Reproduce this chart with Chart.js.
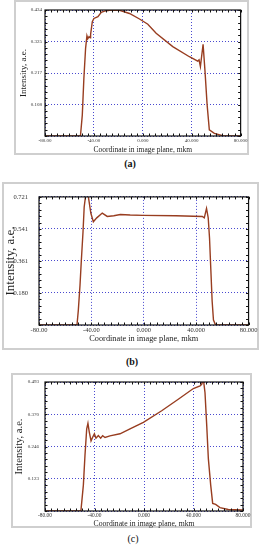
<!DOCTYPE html>
<html>
<head>
<meta charset="utf-8">
<script src="https://cdn.jsdelivr.net/npm/chart.js@4"></script>
<style>
  body { margin: 0; background: #fff; width: 264px; height: 550px; position: relative; overflow: hidden; }
  .box { position: absolute; box-sizing: border-box; border: 2px solid #cfcfcf; }
  .cv { position: absolute; }
  .lab { position: absolute; font-family: "Liberation Serif", serif; font-size: 10px; color: #111; transform: translate(-50%, -50%); }
</style>
</head>
<body>
<div class="box" style="left:14px;top:0px;width:235px;height:155px"></div>
<div class="box" style="left:2px;top:182px;width:257px;height:168px"></div>
<div class="box" style="left:11px;top:373px;width:241px;height:155px"></div>

<canvas id="chart-a" class="cv" width="235" height="155" style="left:14px;top:0px"></canvas>
<canvas id="chart-b" class="cv" width="257" height="168" style="left:2px;top:182px"></canvas>
<canvas id="chart-c" class="cv" width="241" height="156" style="left:11px;top:373px"></canvas>

<div class="lab" style="left:130px;top:163px;font-weight:bold">(a)</div>
<div class="lab" style="left:132px;top:361px;font-weight:bold">(b)</div>
<div class="lab" style="left:133px;top:538px">(c)</div>

<script>
// x axis (same for all three panels)
let xTickValues = [-80, -40, 0, 40, 80];
let xTickLabels = ['-80.00', '-40.00', '0.000', '40.000', '80.000'];

// Panel (a)
let xA = [-80, -51, -49.5, -48.2, -46.8, -45.7, -45, -44, -43, -42.7, -41.3, -40, -36.7, -34, -31.3, -25.8, -19, -10.9, -2.7, 4.1, 10.9, 24.5, 38.1, 44.9, 46, 47.1, 49.3, 50.9, 52.6, 54.4, 58.5, 65.3, 80];
let yA = [0, 0, 0.072, 0.199, 0.302, 0.345, 0.335, 0.342, 0.338, 0.350, 0.394, 0.405, 0.411, 0.426, 0.430, 0.434, 0.433, 0.422, 0.403, 0.385, 0.354, 0.308, 0.273, 0.258, 0.262, 0.239, 0.316, 0.221, 0.107, 0.021, 0.009, 0.001, 0];
let yTicksA = [0, 0.1085, 0.217, 0.3255, 0.434];
let yLabelsA = ['', '0.108', '0.217', '0.325', '0.434'];

// Panel (b)
let xB = [-80, -51, -50, -48.7, -47.7, -46.4, -45.5, -44.2, -42.4, -40.4, -38.5, -35.9, -31.7, -27.9, -22.9, -17.9, -10.4, -0.4, 24.6, 44.7, 46.2, 47.9, 49.2, 50.2, 51.2, 52.2, 53.2, 54.7, 80];
let yB = [0, 0, 0.081, 0.223, 0.360, 0.523, 0.664, 0.740, 0.726, 0.629, 0.581, 0.603, 0.630, 0.611, 0.615, 0.622, 0.619, 0.617, 0.615, 0.611, 0.603, 0.656, 0.603, 0.488, 0.311, 0.134, 0.028, 0.002, 0];
let yTicksB = [0, 0.18025, 0.3605, 0.54075, 0.721];
let yLabelsB = ['', '0.180', '0.361', '0.541', '0.721'];

// Panel (c)
let xC = [-80, -51, -49, -47.7, -46.3, -45.3, -44.2, -42.8, -41.5, -40.1, -38.8, -36.9, -35, -33.4, -31.5, -27.5, -19.4, -11.3, -0.5, 14.3, 27.7, 39.9, 45.3, 46.6, 48, 49.3, 50.7, 52, 53.9, 55.5, 57.9, 61.4, 68.1, 78.9, 80];
let yC = [0, 0, 0.099, 0.212, 0.314, 0.335, 0.301, 0.268, 0.282, 0.295, 0.278, 0.288, 0.278, 0.288, 0.281, 0.287, 0.295, 0.314, 0.339, 0.383, 0.427, 0.468, 0.478, 0.484, 0.503, 0.452, 0.326, 0.200, 0.099, 0.029, 0.025, 0.013, 0.006, 0.004, 0.004];
let yTicksC = [0, 0.12325, 0.2465, 0.36975, 0.493];
let yLabelsC = ['', '0.123', '0.246', '0.370', '0.493'];

let lineColor = '#983d20';
let gridColor = '#4a4ad0';
let serif = 'Liberation Serif';

// black frame round the plot area + small inner ticks
let framePlugin = {
    id: 'frame',
    afterDraw(chart) {
        let ctx = chart.ctx;
        let a = chart.chartArea;
        let sx = chart.scales.x;
        let sy = chart.scales.y;
        ctx.save();
        ctx.strokeStyle = '#111';
        ctx.lineWidth = 1;
        ctx.beginPath();
        for (let v = sx.min; v <= sx.max; v += 5) {
            let p = Math.round(sx.getPixelForValue(v)) + 0.5;
            ctx.moveTo(p, a.top); ctx.lineTo(p, a.top + 2.5);
            ctx.moveTo(p, a.bottom); ctx.lineTo(p, a.bottom - 2.5);
        }
        let step = (sy.max - sy.min) / 20;
        for (let i = 0; i <= 20; i++) {
            let p = Math.round(sy.getPixelForValue(sy.min + i * step)) + 0.5;
            ctx.moveTo(a.left, p); ctx.lineTo(a.left + 2.5, p);
            ctx.moveTo(a.right, p); ctx.lineTo(a.right - 2.5, p);
        }
        ctx.stroke();
        ctx.lineWidth = 1.2;
        ctx.strokeRect(a.left, a.top, a.width, a.height);
        ctx.restore();
    }
};

function makeChart(id, xs, ys, yTicks, yLabels, o) {
    let points = xs.map((x, i) => ({x: x, y: ys[i]}));
    return new Chart(document.getElementById(id).getContext('2d'), {
        type: 'line',
        data: {
            datasets: [{
                data: points,
                borderColor: lineColor,
                borderWidth: 1.4,
                pointRadius: 0,
                tension: 0,
                fill: false
            }]
        },
        options: {
            responsive: false,
            animation: false,
            layout: { padding: { left: 0, top: o.padTop, right: o.padRight, bottom: 0 } },
            plugins: { legend: { display: false }, tooltip: { enabled: false } },
            scales: {
                x: {
                    type: 'linear',
                    min: -80,
                    max: 80,
                    afterBuildTicks: s => { s.ticks = xTickValues.map(v => ({value: v})); },
                    afterFit: s => { s.height = o.xH; },
                    grid: { color: gridColor, lineWidth: 1, drawTicks: false },
                    border: { display: false, dash: [1, 2] },
                    ticks: {
                        autoSkip: false,
                        maxRotation: 0,
                        padding: o.xTickPad,
                        color: '#333',
                        font: { family: serif, size: o.xTickFont },
                        callback: (v, i) => xTickLabels[i]
                    },
                    title: {
                        display: true,
                        text: o.xTitle,
                        color: '#222',
                        font: { family: serif, size: o.xTitleFont },
                        padding: { top: 0, bottom: o.xTitlePad }
                    }
                },
                y: {
                    type: 'linear',
                    min: 0,
                    max: yTicks[yTicks.length - 1],
                    afterBuildTicks: s => { s.ticks = yTicks.map(v => ({value: v})); },
                    afterFit: s => { s.width = o.yW; },
                    grid: { color: gridColor, lineWidth: 1, drawTicks: false },
                    border: { display: false, dash: [1, 2] },
                    ticks: {
                        padding: o.yTickPad,
                        color: '#333',
                        font: { family: serif, size: o.yTickFont },
                        callback: (v, i) => yLabels[i]
                    },
                    title: {
                        display: true,
                        text: 'Intensity, a.e.',
                        color: '#222',
                        font: { family: serif, size: o.yTitleFont },
                        padding: { top: o.yTitlePad, bottom: 0 }
                    }
                }
            }
        },
        plugins: [framePlugin]
    });
}

let chartA = makeChart('chart-a', xA, yA, yTicksA, yLabelsA, {
    padTop: 10, padRight: 8, xH: 19, yW: 31,
    xTickFont: 5, xTickPad: 1.5, yTickFont: 5, yTickPad: 3,
    xTitle: 'Coordinate in image plane, mkm', xTitleFont: 7.5, xTitlePad: 0.5,
    yTitleFont: 9, yTitlePad: 4.5
});

let chartB = makeChart('chart-b', xB, yB, yTicksB, yLabelsB, {
    padTop: 7, padRight: 7, xH: 25, yW: 37,
    xTickFont: 6.5, xTickPad: 1.5, yTickFont: 6.5, yTickPad: 11,
    xTitle: 'Coordinate in image plane, mkm', xTitleFont: 8.3, xTitlePad: 6,
    yTitleFont: 13, yTitlePad: 1.2
});

let chartC = makeChart('chart-c', xC, yC, yTicksC, yLabelsC, {
    padTop: 8, padRight: 9, xH: 18, yW: 34,
    xTickFont: 5.4, xTickPad: 1, yTickFont: 5, yTickPad: 6,
    xTitle: 'Coordinate in image plane, mkm', xTitleFont: 7.7, xTitlePad: 0.4,
    yTitleFont: 10.5, yTitlePad: 1.7
});
</script>
</body>
</html>
